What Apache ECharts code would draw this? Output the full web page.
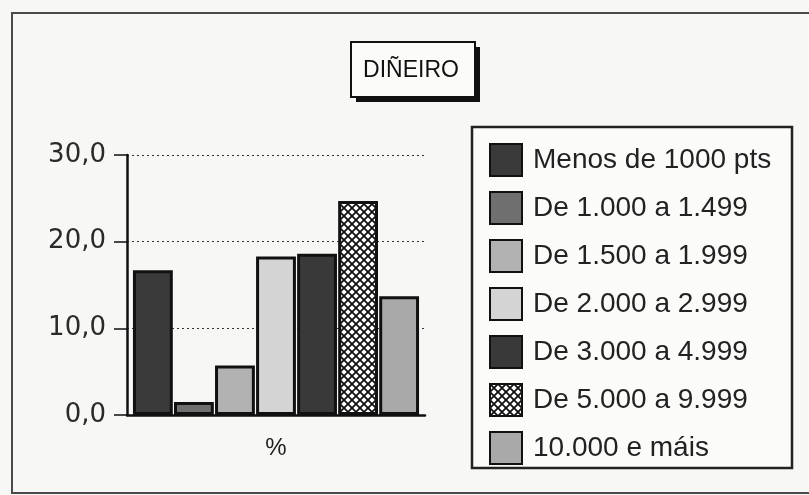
<!DOCTYPE html>
<html><head><meta charset="utf-8">
<script src="https://cdn.jsdelivr.net/npm/echarts@6/dist/echarts.min.js"></script>
<style>html,body{margin:0;padding:0;background:#f7f7f5;}#c{width:809px;height:495px;}</style>
</head><body><div id="c"></div>
<script>
const titleText = 'DIÑEIRO';
const categories = ['%'];
const seriesNames = ['Menos de 1000 pts','De 1.000 a 1.499','De 1.500 a 1.999','De 2.000 a 2.999','De 3.000 a 4.999','De 5.000 a 9.999','10.000 e máis'];
const seriesValues = [16.7, 1.5, 5.7, 18.3, 18.6, 24.7, 13.7];
const yTicks = [0, 10, 20, 30];

function hatch(){
  const c = document.createElement('canvas'); c.width = 8; c.height = 8;
  const g = c.getContext('2d');
  g.fillStyle = '#ffffff'; g.fillRect(0,0,8,8);
  g.strokeStyle = '#111'; g.lineWidth = 1.8;
  g.beginPath();
  g.moveTo(-1,-1); g.lineTo(9,9);
  g.moveTo(9,-1); g.lineTo(-1,9);
  g.stroke();
  return c;
}
const fills = ['#3a3a3a','#6f6f6f','#b2b2b2','#d4d4d4','#393939',{image:hatch(),repeat:'repeat'},'#a9a9a9'];

const chart = echarts.init(document.getElementById('c'));
chart.setOption({
  backgroundColor:'#f7f7f5',
  animation:false,
  graphic:[
    {type:'rect',shape:{x:12,y:13,width:820,height:480},style:{fill:'none',stroke:'#4a4a4a',lineWidth:2},z:-1},
    {type:'rect',shape:{x:356,y:47,width:124,height:55},style:{fill:'#111'},z:1},
    {type:'rect',shape:{x:351,y:42,width:124,height:55},style:{fill:'#fbfbfa',stroke:'#111',lineWidth:2},z:2},
    {type:'text',x:411,y:71,style:{text:titleText,fill:'#111',font:'23px "Liberation Sans"',textAlign:'center',textVerticalAlign:'middle'},z:3},
    {type:'rect',shape:{x:472,y:127,width:320,height:341},style:{fill:'#fbfbfa',stroke:'#222',lineWidth:2.5},z:0}
  ],
  legend:{
    orient:'vertical',left:489,top:143,padding:0,
    itemWidth:32,itemHeight:32,itemGap:14,icon:'rect',
    textStyle:{fontFamily:'Liberation Sans',fontSize:28,color:'#222',padding:[0,0,0,6]},
    data:seriesNames
  },
  grid:{left:127,right:384,top:155,bottom:80},
  xAxis:{type:'category',data:categories,
    axisLine:{lineStyle:{color:'#111',width:2.5}},
    axisTick:{show:false},
    axisLabel:{fontFamily:'Liberation Sans',fontSize:24,color:'#222',margin:21}
  },
  yAxis:{type:'value',min:yTicks[0],max:yTicks[yTicks.length-1],interval:10,
    axisLine:{show:true,lineStyle:{color:'#111',width:2.5}},
    axisTick:{show:true,length:13,lineStyle:{color:'#111',width:1.5}},
    axisLabel:{fontFamily:'DejaVu Sans',fontSize:26,color:'#2a2a2a',margin:21,padding:[3,0,0,0],
      formatter:v=>v.toFixed(1).replace('.',',')},
    splitLine:{lineStyle:{type:[2,3],color:'#333',width:1}}
  },
  series: seriesNames.map((n,i)=>({
    name:n,type:'bar',data:[seriesValues[i]],
    barCategoryGap:'4%',barGap:'3%',
    itemStyle:{color:fills[i],borderColor:'#111',borderWidth:3}
  }))
});
</script></body></html>
